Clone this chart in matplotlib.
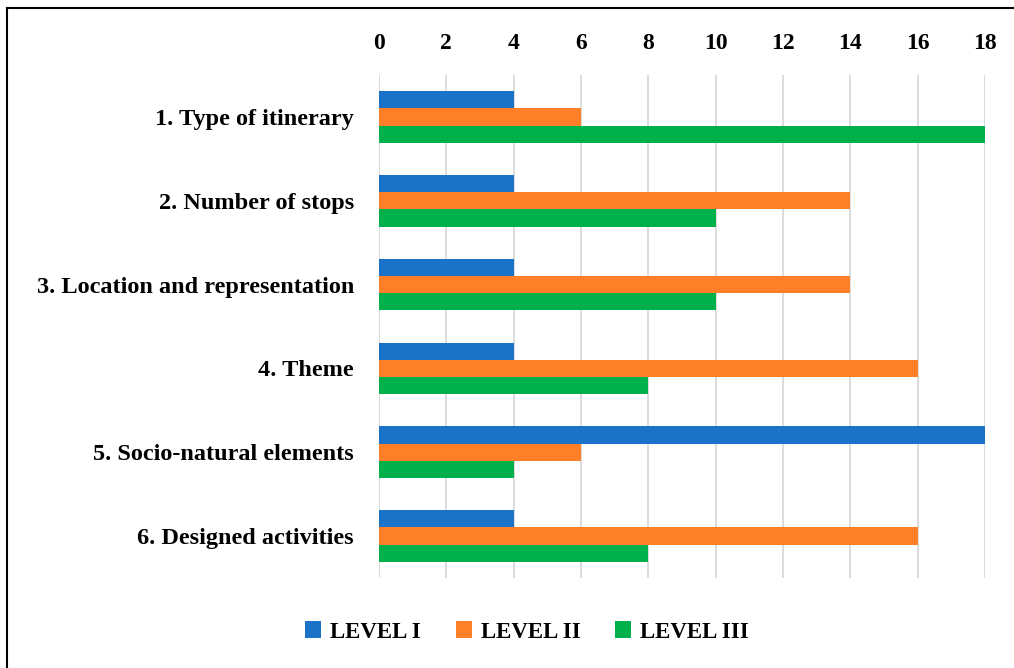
import numpy as np
import matplotlib
matplotlib.use('Agg')
import matplotlib.pyplot as plt
from matplotlib.lines import Line2D

categories = ['1. Type of itinerary', '2. Number of stops', '3. Location and representation',
              '4. Theme', '5. Socio-natural elements', '6. Designed activities']
level_1 = [4, 4, 4, 4, 18, 4]
level_2 = [6, 14, 14, 16, 6, 16]
level_3 = [18, 10, 10, 8, 4, 8]
series_names = ['LEVEL I', 'LEVEL II', 'LEVEL III']
x_ticks = list(range(0, 20, 2))

colors = ['#1A73C9', '#FF7F29', '#00B04A']

plt.rcParams['font.family'] = ['Liberation Serif', 'DejaVu Serif']
plt.rcParams['font.weight'] = 'bold'

fig = plt.figure(figsize=(10.14, 6.68), dpi=100)
ax = fig.add_axes([379 / 1014, 1 - 578 / 668, 606 / 1014, 503 / 668])

y = np.arange(len(categories))
h = 0.206
for k, (vals, name) in enumerate(zip([level_1, level_2, level_3], series_names)):
    ax.barh(y + (k - 1) * h, vals, height=h, color=colors[k], label=name, zorder=3)

ax.set_xlim(0, 18)
ax.set_ylim(len(categories) - 0.5, -0.5)
ax.set_xticks(x_ticks)
ax.set_yticks(y)
ax.set_yticklabels(categories)
ax.xaxis.tick_top()
ax.tick_params(axis='both', length=0)
ax.tick_params(axis='x', pad=15, labelsize=17)
ax.tick_params(axis='y', pad=18, labelsize=17.5)
for lab in ax.get_xticklabels() + ax.get_yticklabels():
    lab.set_fontweight('bold')
ax.grid(axis='x', color='#D9D9D9', linewidth=1.3, zorder=0)
for s in ax.spines.values():
    s.set_visible(False)

leg = fig.legend(loc='center', bbox_to_anchor=(527 / 1014, 1 - 632 / 668), ncol=3, frameon=False,
                 handlelength=0.7, handleheight=0.7, handletextpad=0.4, columnspacing=1.5,
                 prop={'weight': 'bold', 'size': 16.5})

# outer frame (left and top edges only)
fig.add_artist(Line2D([6.5 / 1014, 6.5 / 1014], [0, 1 - 8 / 668], color='black', linewidth=1.5,
                      transform=fig.transFigure))
fig.add_artist(Line2D([6.5 / 1014, 1], [1 - 8 / 668, 1 - 8 / 668], color='black', linewidth=1.5,
                      transform=fig.transFigure))

fig.savefig('out.png', dpi=100)
